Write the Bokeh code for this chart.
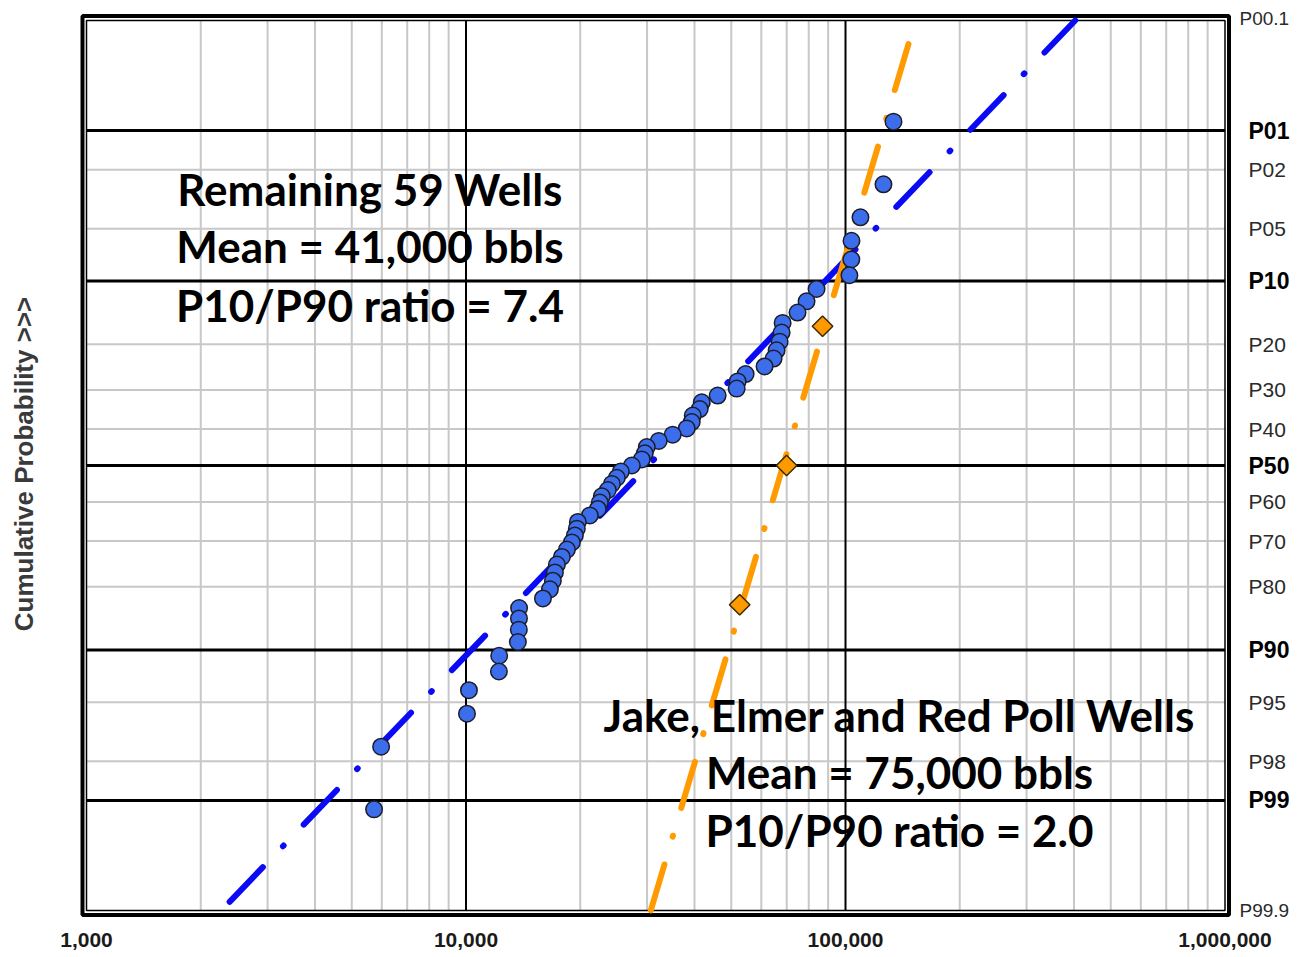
from statistics import NormalDist
import math
from bokeh.plotting import figure
from bokeh.models import Range1d, FixedTicker, Label
from bokeh.embed import file_html
from bokeh.resources import INLINE

# ---------------- data ----------------
# Remaining 59 wells, ranked from largest to smallest (bbls)
remaining_bbls = [133800, 125900, 109500, 103700, 103600, 102400, 83900, 78960,
                  74750, 68280, 67870, 67050, 65840, 64650, 61200, 54560, 51980,
                  51670, 46040, 41800, 41290, 39580, 39340, 38160, 35050, 32200,
                  29950, 29590, 29050, 27350, 25580, 24970, 24230, 23640, 22800,
                  22520, 22250, 21200, 19710, 19590, 19360, 19010, 18450, 17890,
                  17360, 17150, 16940, 16640, 15950, 13800, 13790, 13780, 13700,
                  12230, 12210, 10180, 10060, 5975, 5725]
# Jake, Elmer and Red Poll wells, largest to smallest (bbls)
jake_bbls = [87000, 69950, 52620]

# dash-dot lognormal trend lines: values at P99.9 and P00.1
fit_pcts = [99.9, 0.1]
remaining_fit_bbls = [2266, 402900]
jake_fit_bbls = [30680, 152900]

# axis ticks / labels
x_tick_values = [1000, 10000, 100000, 1000000]
x_tick_labels = ["1,000", "10,000", "100,000", "1,000,000"]
x_major_grid = [10000, 100000]
x_minor_grid = [m * d for d in (1000, 10000, 100000) for m in range(2, 10)]

prob_pcts = [0.1, 1, 2, 5, 10, 20, 30, 40, 50, 60, 70, 80, 90, 95, 98, 99, 99.9]
prob_labels = ["P00.1", "P01", "P02", "P05", "P10", "P20", "P30", "P40", "P50",
               "P60", "P70", "P80", "P90", "P95", "P98", "P99", "P99.9"]
bold_pcts = [1, 10, 50, 90, 99]
end_pcts = [0.1, 99.9]

text_a = ["Remaining 59 Wells", "Mean = 41,000 bbls", "P10/P90 ratio = 7.4"]
text_b = ["Jake, Elmer and Red Poll Wells", "Mean = 75,000 bbls", "P10/P90 ratio = 2.0"]
y_axis_title = "Cumulative Probability >>>"

# ---------------- helpers ----------------
ND = NormalDist()


def z_of(pct):
    """probability-paper coordinate: P01 at the top, P99 at the bottom"""
    return ND.inv_cdf(1 - pct / 100.0)


def plotting_pcts(n):
    return [100.0 * (i - 0.5) / n for i in range(1, n + 1)]


rem_y = [z_of(q) for q in plotting_pcts(len(remaining_bbls))]
jake_y = [z_of(q) for q in plotting_pcts(len(jake_bbls))]
fit_y = [z_of(q) for q in fit_pcts]

# ---------------- layout constants ----------------
PX_SIGMA = 144.0          # pixels per standard deviation
PX_DEC = 379.5            # pixels per decade
LEFT, TOP = 72, 10        # frame position in the canvas
FRAME_W, FRAME_H = 1223, 907
X0_PX = 14                # 1,000 sits 14 px right of the frame edge
Z_MID_PX = 455            # P50 sits 455 px below the frame top

Z_EDGE = z_of(0.1)
x_lo = 10 ** (3 - X0_PX / PX_DEC)
x_hi = 10 ** (3 + (FRAME_W - X0_PX) / PX_DEC)
y_hi = Z_MID_PX / PX_SIGMA
y_lo = -(FRAME_H - Z_MID_PX) / PX_SIGMA

p = figure(x_axis_type="log",
           x_range=Range1d(x_lo, x_hi), y_range=Range1d(y_lo, y_hi),
           frame_width=FRAME_W, frame_height=FRAME_H,
           min_border_left=LEFT, min_border_right=0,
           min_border_top=TOP, min_border_bottom=39,
           output_backend="svg", toolbar_location=None,
           background_fill_color="white", border_fill_color="white")
p.outline_line_color = None
p.xgrid.visible = False
p.ygrid.visible = False

# ---------------- probability-paper grid ----------------
x_min, x_max = x_tick_values[0], x_tick_values[-1]
minor_z = [z_of(q) for q in prob_pcts if q not in bold_pcts and q not in end_pcts]
major_z = [z_of(q) for q in bold_pcts]


def vlines(xs, color, width):
    p.segment(x0=xs, x1=xs, y0=[-Z_EDGE] * len(xs), y1=[Z_EDGE] * len(xs),
              line_color=color, line_width=width)


def hlines(zs, color, width):
    p.segment(x0=[x_min] * len(zs), x1=[x_max] * len(zs), y0=zs, y1=zs,
              line_color=color, line_width=width)


vlines(x_minor_grid, "#c8c8c8", 2)
hlines(minor_z, "#c8c8c8", 2)
vlines(x_major_grid, "black", 2)
hlines(major_z, "black", 3)

# inner and outer frame
p.quad(left=[x_min], right=[x_max], bottom=[-Z_EDGE], top=[Z_EDGE],
       fill_color=None, line_color="black", line_width=1.5)
pad_x = 4.0 / PX_DEC
pad_y = 4.5 / PX_SIGMA
p.quad(left=[x_min * 10 ** -pad_x], right=[x_max * 10 ** pad_x],
       bottom=[-Z_EDGE - pad_y], top=[Z_EDGE + pad_y],
       fill_color=None, line_color="black", line_width=4)

# ---------------- trend lines and points ----------------
p.line(x=remaining_fit_bbls, y=fit_y, line_color="#0a0af5", line_width=6,
       line_dash="48 29 1 29", line_dash_offset=95, line_cap="round")
p.line(x=jake_fit_bbls, y=fit_y, line_color="#ff9b00", line_width=6,
       line_dash="48 29 1 29", line_dash_offset=0, line_cap="round")

p.scatter(x=remaining_bbls, y=rem_y, size=16.5, fill_color="#3c6eeb",
          line_color="#1c1c2a", line_width=1.5)
p.scatter(x=jake_bbls, y=jake_y, marker="square", angle=math.pi / 4, size=14.5,
          fill_color="#ff9900", line_color="#3a2a00", line_width=1.5)

# ---------------- bottom axis ----------------
xa = p.xaxis[0]
xa.ticker = FixedTicker(ticks=x_tick_values)
xa.major_label_overrides = {v: t for v, t in zip(x_tick_values, x_tick_labels)}
xa.major_tick_line_color = None
xa.minor_tick_line_color = None
xa.major_tick_out = 0
xa.minor_tick_out = 0
xa.axis_line_color = None
xa.major_label_standoff = 15
xa.major_label_text_font = "Liberation Sans"
xa.major_label_text_font_style = "bold"
xa.major_label_text_font_size = "21px"
xa.major_label_text_color = "#1a1a1a"

# ---------------- left axis: title only ----------------
ya = p.yaxis[0]
ya.ticker = FixedTicker(ticks=[])
ya.major_tick_line_color = None
ya.minor_tick_line_color = None
ya.major_tick_out = 0
ya.minor_tick_out = 0
ya.axis_line_color = None
ya.major_label_standoff = 0
ya.axis_label = y_axis_title
ya.axis_label_standoff = 34
ya.axis_label_text_font = "Liberation Sans"
ya.axis_label_text_font_style = "bold"
ya.axis_label_text_font_size = "26px"
ya.axis_label_text_color = "#3a3a3a"

# ---------------- probability labels on the right ----------------
for q, lab in zip(prob_pcts, prob_labels):
    if q in bold_pcts:
        kw = dict(x_offset=23.5, text_font_size="23px", text_font_style="bold",
                  text_color="black")
    elif q in end_pcts:
        kw = dict(x_offset=14.5, text_font_size="19px", text_font_style="normal",
                  text_color="#2a2a2a", y_offset=2 if q < 50 else 0)
    else:
        kw = dict(x_offset=23.5, text_font_size="21px", text_font_style="normal",
                  text_color="#2a2a2a")
    p.add_layout(Label(x=x_max, y=z_of(q), text=lab, text_align="left",
                       text_baseline="middle", text_font="Liberation Sans", **kw))

# ---------------- annotation blocks ----------------
ax_a = 5585
ay_a = [1.917, 1.521, 1.118]
ax_b = 138800
ay_b = [-1.733, -2.129, -2.532]
for t, yy in zip(text_a, ay_a):
    p.add_layout(Label(x=ax_a, y=yy, text=t, text_align="center",
                       text_baseline="alphabetic", text_font="Lato",
                       text_font_style="bold", text_font_size="44px",
                       text_color="black"))
for t, yy in zip(text_b, ay_b):
    p.add_layout(Label(x=ax_b, y=yy, text=t, text_align="center",
                       text_baseline="alphabetic", text_font="Lato",
                       text_font_style="bold", text_font_size="44px",
                       text_color="black"))

open("out.html", "w").write(file_html(p, INLINE))
